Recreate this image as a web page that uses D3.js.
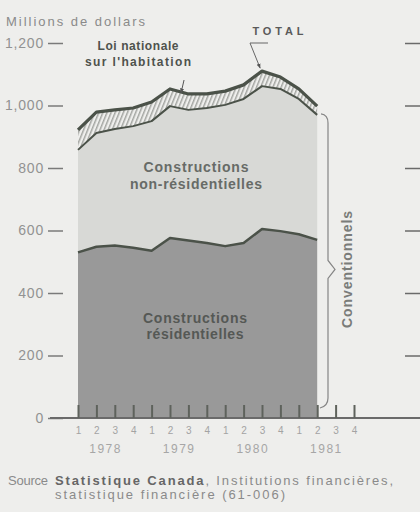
<!DOCTYPE html>
<html>
<head>
<meta charset="utf-8">
<script src="https://cdn.jsdelivr.net/npm/d3@7"></script>
<style>
  html, body { margin: 0; padding: 0; background: #eeeeec; }
  svg { display: block; font-family: "Liberation Sans", Arial, sans-serif; }
</style>
</head>
<body>
<svg id="chart" width="420" height="512"></svg>
<script>
// Quarterly values, millions of dollars (1978 Q1 - 1981 Q2)
const residential    = [530, 548, 552, 545, 535, 576, 568, 560, 550, 560, 605, 598, 588, 570];
const nonResidential = [328, 364, 373, 389, 415, 422, 418, 432, 452, 461, 457, 455, 433, 400];
const nha            = [64, 67, 61, 58, 61, 55, 51, 45, 44, 45, 48, 38, 32, 28];

const quarterLabels = ["1", "2", "3", "4", "1", "2", "3", "4", "1", "2", "3", "4", "1", "2", "3", "4"];
const years = ["1978", "1979", "1980", "1981"];
const yTicks = [0, 200, 400, 600, 800, 1000, 1200];

const svg = d3.select("#chart");

const x = d3.scaleLinear().domain([0, 15]).range([78, 354]);
const y = d3.scaleLinear().domain([0, 1200]).range([418, 43]);

// Stack the three series
const rows = residential.map((d, i) => ({
  i: i,
  residential: d,
  nonResidential: nonResidential[i],
  nha: nha[i]
}));
const series = d3.stack().keys(["residential", "nonResidential", "nha"])(rows);

// Hatch for the NHA band
const defs = svg.append("defs");
const pat = defs.append("pattern")
  .attr("id", "hatch")
  .attr("patternUnits", "userSpaceOnUse")
  .attr("width", 3.8)
  .attr("height", 3.8)
  .attr("patternTransform", "rotate(22)");
pat.append("rect").attr("width", 3.8).attr("height", 3.8).attr("fill", "#efefed");
pat.append("line")
  .attr("x1", 0.8).attr("y1", 0).attr("x2", 0.8).attr("y2", 3.8)
  .attr("stroke", "#80847e").attr("stroke-width", 1);

const area = d3.area()
  .x(d => x(d.data.i))
  .y0(d => y(d[0]))
  .y1(d => y(d[1]));

const fills = ["#999999", "#d8d9d6", "url(#hatch)"];

svg.append("g")
  .selectAll("path")
  .data(series)
  .join("path")
  .attr("d", area)
  .attr("fill", (d, i) => fills[i]);

// Top lines of each layer
const topLine = d3.line()
  .x(d => x(d.data.i))
  .y(d => y(d[1]));

svg.append("g")
  .attr("fill", "none")
  .attr("stroke", "#4b5249")
  .attr("stroke-linejoin", "round")
  .selectAll("path")
  .data(series)
  .join("path")
  .attr("d", topLine)
  .attr("stroke-width", (d, i) => [2.5, 2, 3.2][i]);

// Y axis dashes and labels
const yAxis = svg.append("g")
  .attr("transform", "translate(63,0)")
  .call(d3.axisLeft(y)
    .tickValues(yTicks)
    .tickSize(15)
    .tickPadding(4)
    .tickFormat(d => d >= 1000 ? d3.format(",")(d) : d));
yAxis.select(".domain").remove();
yAxis.selectAll("line").attr("stroke", "#7a7a7a").attr("stroke-width", 1.5);
yAxis.selectAll("text")
  .attr("fill", "#929292")
  .attr("font-size", "14px")
  .attr("letter-spacing", "0.8px")
  .attr("font-family", "Liberation Sans, Arial, sans-serif");

// Right side dashes (no labels)
const yRight = svg.append("g")
  .attr("transform", "translate(405,0)")
  .call(d3.axisRight(y).tickValues(yTicks.slice(1)).tickSize(15).tickFormat(""));
yRight.select(".domain").remove();
yRight.selectAll("line").attr("stroke", "#6a6a6a").attr("stroke-width", 1.5);

// Baseline
svg.append("line")
  .attr("x1", 50).attr("x2", 420)
  .attr("y1", y(0)).attr("y2", y(0))
  .attr("stroke", "#6a6a6a")
  .attr("stroke-width", 2);

// Quarter ticks
const xAxis = svg.append("g")
  .attr("transform", `translate(0,${y(0)})`)
  .call(d3.axisBottom(x)
    .tickValues(d3.range(quarterLabels.length))
    .tickSize(-13)
    .tickSizeOuter(0)
    .tickPadding(9)
    .tickFormat(i => quarterLabels[i]));
xAxis.select(".domain").remove();
xAxis.selectAll("line").attr("stroke", "#5e625c").attr("stroke-width", 2);
xAxis.selectAll("text")
  .attr("fill", "#a3a3a3")
  .attr("font-size", "10px")
  .attr("font-family", "Liberation Sans, Arial, sans-serif");

// Year labels
svg.append("g")
  .selectAll("text")
  .data(years)
  .join("text")
  .attr("x", (d, k) => x(k * 4 + 1.5))
  .attr("y", 453)
  .attr("text-anchor", "middle")
  .attr("fill", "#a6a6a6")
  .attr("font-size", "12px")
  .attr("letter-spacing", "1.5px")
  .text(d => d);

// Unit title
svg.append("text")
  .attr("x", 6).attr("y", 26)
  .attr("fill", "#8a8a8a")
  .attr("font-size", "13px")
  .attr("textLength", 139)
  .attr("lengthAdjust", "spacing")
  .text("Millions de dollars");

// Chart labels
function label(lines, cx, y0, size, color, widths, gap) {
  lines.forEach((t, k) => {
    svg.append("text")
      .attr("x", cx)
      .attr("y", y0 + k * gap)
      .attr("text-anchor", "middle")
      .attr("font-weight", "bold")
      .attr("font-size", size + "px")
      .attr("fill", color)
      .attr("textLength", widths[k])
      .attr("lengthAdjust", "spacing")
      .text(t);
  });
}

label(["Constructions", "non-résidentielles"], 196, 172, 14, "#676b67", [105, 132], 16.5);
label(["Constructions", "résidentielles"], 195, 323, 14, "#555855", [104, 97], 16);
label(["Loi nationale", "sur l'habitation"], 138, 50, 12, "#4e524d", [81, 106], 16);

svg.append("text")
  .attr("x", 278).attr("y", 35)
  .attr("text-anchor", "middle")
  .attr("font-weight", "bold")
  .attr("font-size", "11px")
  .attr("fill", "#5a5a5a")
  .attr("textLength", 51)
  .attr("lengthAdjust", "spacing")
  .text("TOTAL");

// Leaders
defs.append("marker")
  .attr("id", "arrow")
  .attr("viewBox", "0 0 10 10")
  .attr("refX", 9).attr("refY", 5)
  .attr("markerWidth", 5).attr("markerHeight", 5)
  .attr("orient", "auto")
  .append("path")
  .attr("d", "M0,1 L10,5 L0,9 Z")
  .attr("fill", "#555");

const totalTip = [x(9.9), y(residential[10] + nonResidential[10] + nha[10]) - 3];
svg.append("path")
  .attr("d", `M268,43 L250,43 L${totalTip[0]},${totalTip[1]}`)
  .attr("fill", "none")
  .attr("stroke", "#666")
  .attr("stroke-width", 1)
  .attr("marker-end", "url(#arrow)");

const nhaTip = [x(5.6), y(residential[5] + nonResidential[5] + nha[5]) + 4];
svg.append("path")
  .attr("d", `M${nhaTip[0] + 3},80 L${nhaTip[0]},${nhaTip[1]}`)
  .attr("fill", "none")
  .attr("stroke", "#555")
  .attr("stroke-width", 1)
  .attr("marker-end", "url(#arrow)");

// Brace for conventional loans
const convTop = y(residential[13] + nonResidential[13]);
const mid = (convTop + y(0)) / 2 + 3;
svg.append("path")
  .attr("d", `M321,${convTop - 1} Q328,${convTop} 328,${convTop + 8} L328,${mid - 9} L335,${mid} L328,${mid + 9} L328,${y(0) - 20} Q328,${y(0) - 12} 320,${y(0) - 10}`)
  .attr("fill", "none")
  .attr("stroke", "#858585")
  .attr("stroke-width", 1.2);

svg.append("text")
  .attr("transform", `translate(352,${mid}) rotate(-90)`)
  .attr("text-anchor", "middle")
  .attr("font-weight", "bold")
  .attr("font-size", "14px")
  .attr("fill", "#7a7c79")
  .attr("textLength", 117)
  .attr("lengthAdjust", "spacing")
  .text("Conventionnels");

// Source
svg.append("text")
  .attr("x", 8).attr("y", 485)
  .attr("fill", "#8a8a8a")
  .attr("font-size", "13px")
  .attr("textLength", 40)
  .attr("lengthAdjust", "spacing")
  .text("Source");

const src = svg.append("text")
  .attr("x", 55).attr("y", 485)
  .attr("fill", "#8a8a8a")
  .attr("font-size", "13px")
  .attr("textLength", 338)
  .attr("lengthAdjust", "spacing");
src.append("tspan").attr("font-weight", "bold").attr("fill", "#666").text("Statistique Canada");
src.append("tspan").text(", Institutions financières,");

svg.append("text")
  .attr("x", 55).attr("y", 499)
  .attr("fill", "#8a8a8a")
  .attr("font-size", "13px")
  .attr("textLength", 230)
  .attr("lengthAdjust", "spacing")
  .text("statistique financière (61-006)");
</script>
</body>
</html>
